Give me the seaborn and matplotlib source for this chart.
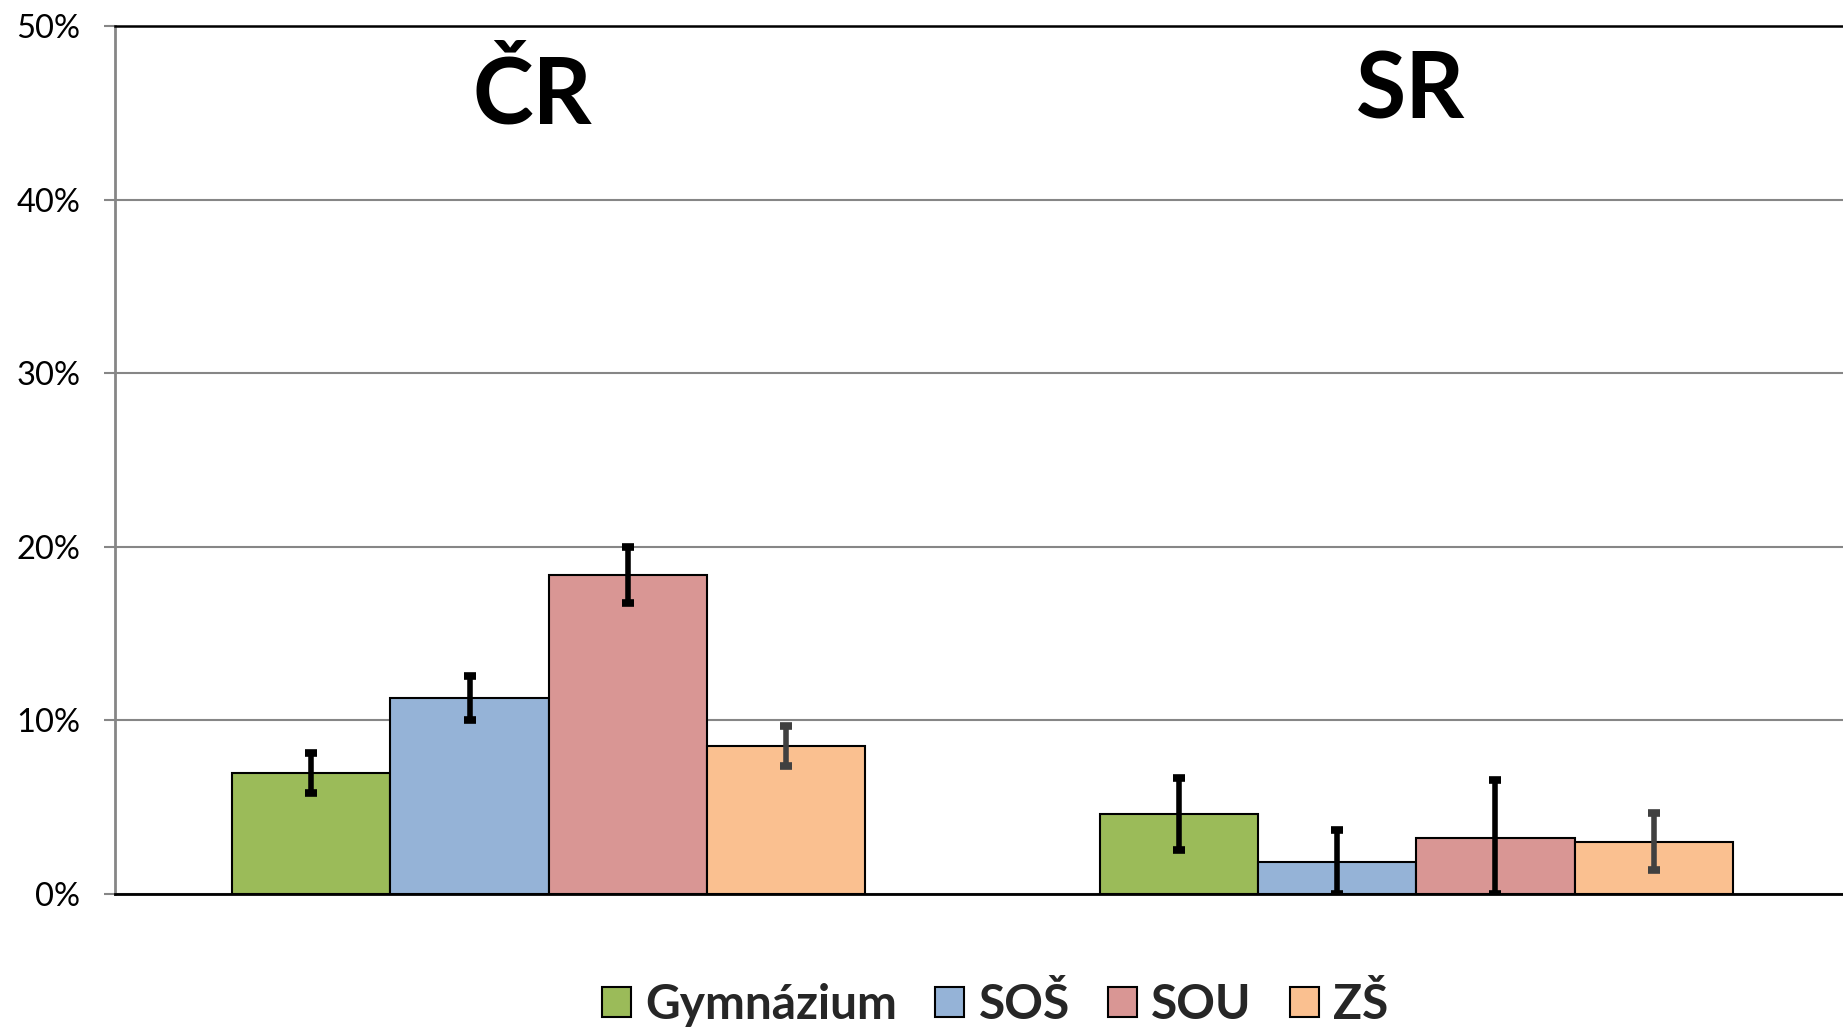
import matplotlib
matplotlib.use("Agg")
import matplotlib.pyplot as plt
import seaborn as sns
import pandas as pd
import numpy as np
from matplotlib.patches import Patch
from matplotlib.container import BarContainer

# ---- data ----
countries = ["ČR", "SR"]
schools = ["Gymnázium", "SOŠ", "SOU", "ZŠ"]
values_cr = [6.97, 11.31, 18.37, 8.54]
values_sr = [4.61, 1.82, 3.25, 3.00]
err_low_cr = [1.18, 1.30, 1.63, 1.14]
err_high_cr = [1.16, 1.24, 1.63, 1.13]
err_low_sr = [2.10, 1.82, 3.25, 1.62]
err_high_sr = [2.10, 1.84, 3.30, 1.64]
yticks = [0, 10, 20, 30, 40, 50]

colors = ["#9BBB59", "#95B3D7", "#D99694", "#FAC090"]
err_colors = ["#000000", "#000000", "#000000", "#404040"]

rows = []
for c, vals in zip(countries, [values_cr, values_sr]):
    for s, v in zip(schools, vals):
        rows.append({"country": c, "school": s, "value": v})
df = pd.DataFrame(rows)

sns.set_theme(style="white")
plt.rcParams["font.family"] = ["Lato", "DejaVu Sans"]

fig = plt.figure(figsize=(18.43, 10.29), dpi=100)
ax = fig.add_axes([115 / 1843, 1 - 894 / 1029, 1735 / 1843, (894 - 26) / 1029])

sns.barplot(data=df, x="country", y="value", hue="school", order=countries,
            hue_order=schools, palette=colors, width=0.73, edgecolor="black",
            linewidth=1.5, errorbar=None, saturation=1, ax=ax, legend=False)

lows = [err_low_cr, err_low_sr]
highs = [err_high_cr, err_high_sr]
bar_containers = [c for c in ax.containers if isinstance(c, BarContainer)]
for hi, cont in enumerate(bar_containers):
    for ci, bar in enumerate(cont.patches):
        xc = bar.get_x() + bar.get_width() / 2
        h = bar.get_height()
        ax.errorbar([xc], [h], yerr=[[lows[ci][hi]], [highs[ci][hi]]],
                    fmt="none", ecolor=err_colors[hi], elinewidth=4.0,
                    capsize=4.3, capthick=5.5, zorder=5)

ax.set_ylim(0, 50)
ax.set_xlim(-0.5, 1.5)
ax.set_yticks(yticks)
ax.set_yticklabels([f"{t}%" for t in yticks])
ax.set_xticks([])
ax.set_xlabel("")
ax.set_ylabel("")
ax.tick_params(axis="y", labelsize=23.5, length=8, width=1.5, color="#868686",
               pad=17, left=True, labelcolor="black")
ax.yaxis.grid(True, color="#868686", linewidth=1.5)
ax.set_axisbelow(True)

ax.spines["right"].set_visible(False)
ax.spines["left"].set_color("#868686")
ax.spines["left"].set_linewidth(2)
ax.spines["bottom"].set_color("black")
ax.spines["bottom"].set_linewidth(2)
ax.spines["top"].set_color("black")
ax.spines["top"].set_linewidth(1.8)

title_dx = [-0.019, -0.006]
title_y = [0.8879, 0.8936]
for i, c in enumerate(countries):
    ax.text(i + title_dx[i], title_y[i], c, transform=ax.get_xaxis_transform(),
            ha="center", va="baseline", fontsize=66, fontweight="bold", color="black")

handles = [Patch(facecolor=col, edgecolor="black", linewidth=1.5) for col in colors]
fig.legend(handles, schools, loc="center", bbox_to_anchor=(0.54, 0.0233), ncol=4,
           frameon=False, prop={"size": 34.5, "weight": "bold"},
           handlelength=0.6, handleheight=0.6, handletextpad=0.3,
           columnspacing=0.8, borderaxespad=0, borderpad=0)

fig.savefig("out.png", dpi=100)
